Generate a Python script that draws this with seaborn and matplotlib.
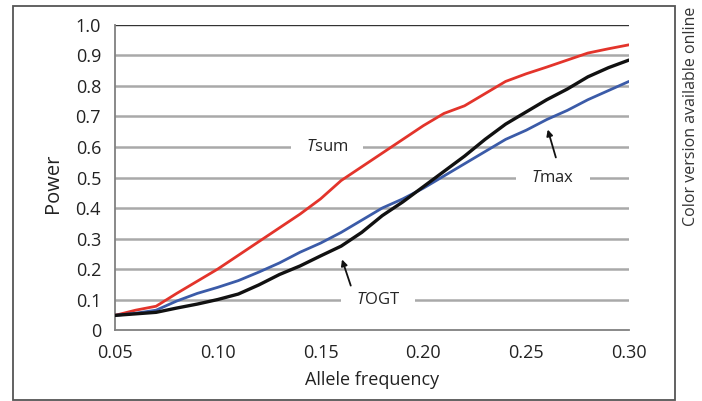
import numpy as np
import pandas as pd
import matplotlib.pyplot as plt
import seaborn as sns
from matplotlib.patches import Rectangle

# allele frequency grid and power curves
freq = [0.05, 0.06, 0.07, 0.08, 0.09, 0.10, 0.11, 0.12, 0.13, 0.14, 0.15, 0.16, 0.17,
        0.18, 0.19, 0.20, 0.21, 0.22, 0.23, 0.24, 0.25, 0.26, 0.27, 0.28, 0.29, 0.30]
t_sum = [0.048, 0.065, 0.078, 0.12, 0.16, 0.20, 0.245, 0.29, 0.335, 0.38, 0.43, 0.49, 0.535,
         0.58, 0.625, 0.67, 0.71, 0.735, 0.775, 0.815, 0.84, 0.862, 0.885, 0.908, 0.922, 0.935]
t_max = [0.048, 0.055, 0.065, 0.095, 0.12, 0.14, 0.162, 0.19, 0.22, 0.255, 0.285, 0.32, 0.36,
         0.40, 0.43, 0.465, 0.505, 0.545, 0.585, 0.625, 0.655, 0.69, 0.72, 0.755, 0.785, 0.815]
t_ogt = [0.048, 0.053, 0.058, 0.072, 0.085, 0.10, 0.118, 0.148, 0.182, 0.21, 0.243, 0.275, 0.32,
         0.375, 0.42, 0.47, 0.52, 0.57, 0.625, 0.675, 0.715, 0.755, 0.79, 0.83, 0.86, 0.885]

x_ticks = [0.05, 0.10, 0.15, 0.20, 0.25, 0.30]
y_ticks = [0, 0.1, 0.2, 0.3, 0.4, 0.5, 0.6, 0.7, 0.8, 0.9, 1.0]
y_ticklabels = ["0", "0.1", "0.2", "0.3", "0.4", "0.5", "0.6", "0.7", "0.8", "0.9", "1.0"]

sns.set_style("white")
plt.rcParams['font.family'] = ['Open Sans', 'DejaVu Sans']
plt.rcParams['mathtext.fontset'] = 'custom'
plt.rcParams['mathtext.it'] = 'Open Sans:italic'
plt.rcParams['mathtext.rm'] = 'Open Sans'

fig = plt.figure(figsize=(7.02, 4.01), dpi=100)
ax = fig.add_axes([0.1638, 0.177, 0.7322, 0.7607])

df = pd.DataFrame({"freq": freq, "sum": t_sum, "max": t_max, "ogt": t_ogt})
sns.lineplot(data=df, x="freq", y="sum", color="#e3342b", lw=2.0, ax=ax, zorder=4)
sns.lineplot(data=df, x="freq", y="max", color="#3b5ba8", lw=2.0, ax=ax, zorder=4)
sns.lineplot(data=df, x="freq", y="ogt", color="#111111", lw=2.4, ax=ax, zorder=5)

ax.set_xlim(0.05, 0.30)
ax.set_ylim(0, 1.0)
ax.set_xticks(x_ticks)
ax.set_xticklabels([f"{v:.2f}" for v in x_ticks])
ax.set_yticks(y_ticks)
ax.set_yticklabels(y_ticklabels)

# horizontal gridlines
for v in y_ticks[1:-1]:
    ax.axhline(v, color="#a9a9a9", lw=1.8, zorder=1)
ax.axhline(1.0, color="#333333", lw=1.0, zorder=1)

for s in ["top", "right"]:
    ax.spines[s].set_visible(False)
for s in ["left", "bottom"]:
    ax.spines[s].set_color("#808080")
    ax.spines[s].set_linewidth(1.3)
ax.tick_params(axis="both", direction="out", length=6, width=1.2, color="#808080",
               labelsize=13, labelcolor="#222222", pad=4)

ax.set_xlabel("Allele frequency", fontsize=13, color="#222222")
ax.set_ylabel("Power", fontsize=14.5, color="#222222")
ax.xaxis.set_label_coords(0.5, -0.135)
ax.yaxis.set_label_coords(-0.101, 0.48)

# curve labels with white backing to break the gridlines
box = dict(boxstyle="square,pad=0.9", fc="white", ec="none")
ax.text(0.153, 0.6, "$T$sum", fontsize=12, ha="center", va="center", bbox=box, zorder=3)
ax.text(0.263, 0.5, "$T$max", fontsize=12, ha="center", va="center", bbox=box, zorder=3)
ax.text(0.178, 0.1, "$T$OGT", fontsize=12, ha="center", va="center", bbox=box, zorder=3)

arrow = dict(arrowstyle="-|>", color="#111111", lw=1.3, mutation_scale=9)
ax.annotate("", xy=(0.2601, 0.666), xytext=(0.2648, 0.557), arrowprops=arrow, zorder=6)
ax.annotate("", xy=(0.160, 0.240), xytext=(0.1651, 0.137), arrowprops=arrow, zorder=6)

# outer frame and side note
fig.patches.append(Rectangle((13 / 702, 1 - 400 / 401), 662 / 702, 394 / 401,
                             transform=fig.transFigure, fill=False, ec="#555555", lw=1.3))
fig.text(0.985, 0.711, "Color version available online", rotation=90, fontsize=11.5,
         ha="center", va="center", color="#333333")

fig.savefig("out.png", dpi=100)
